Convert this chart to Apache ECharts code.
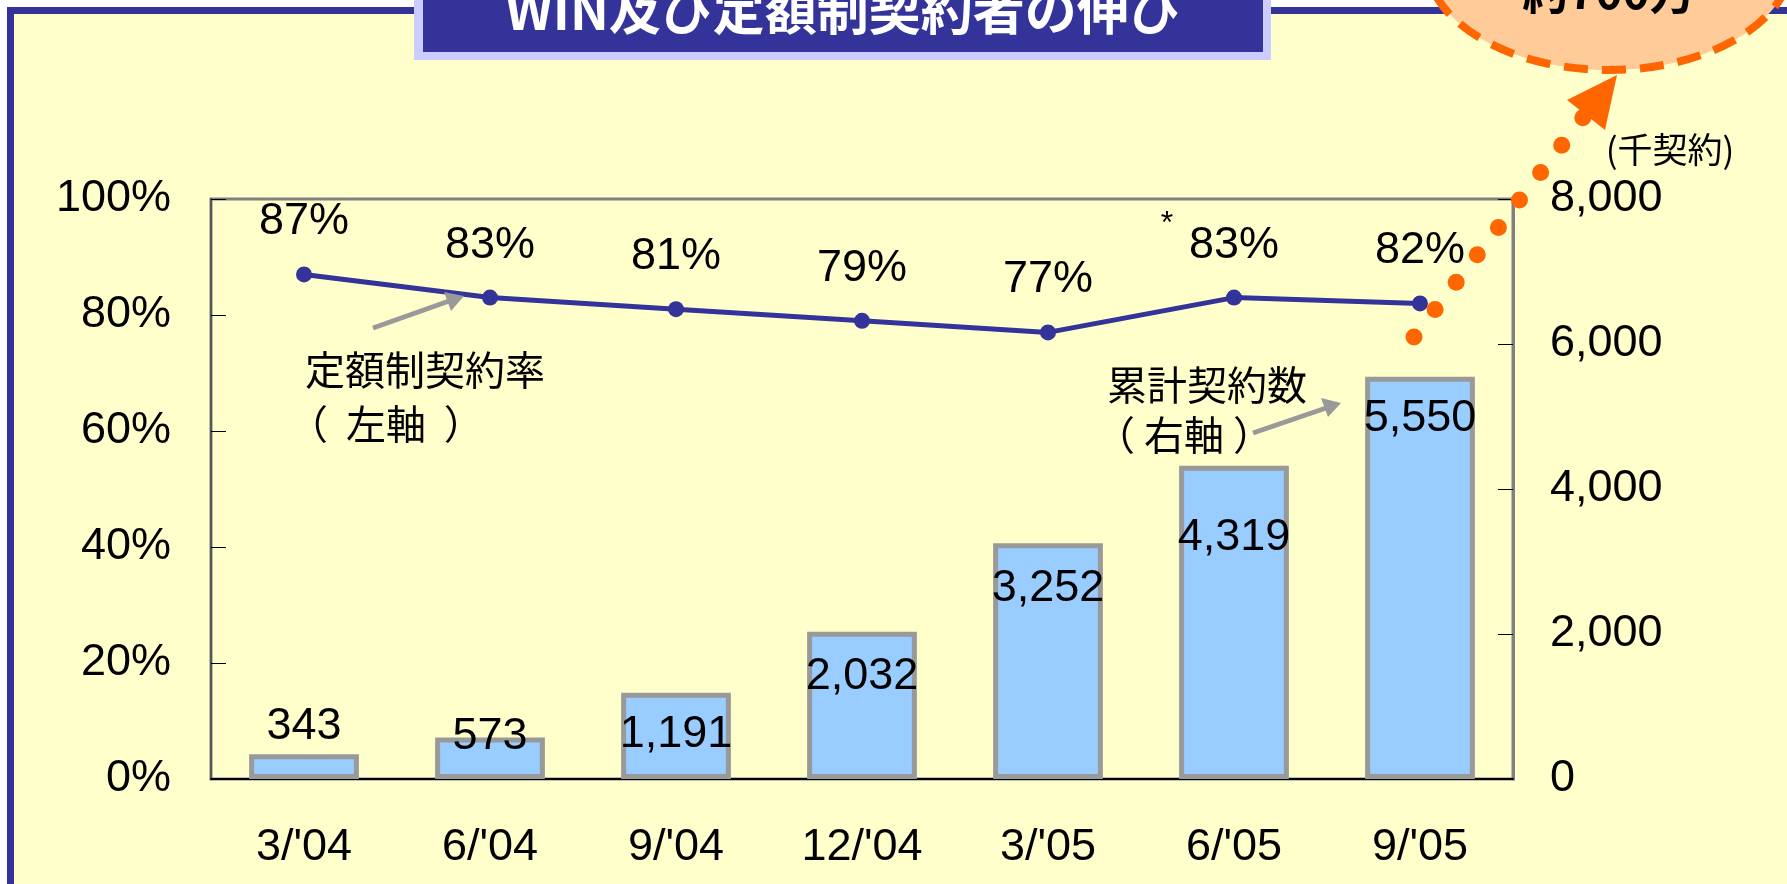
<!DOCTYPE html>
<html>
<head>
<meta charset="utf-8">
<script src="https://cdn.jsdelivr.net/npm/echarts@6/dist/echarts.min.js"></script>
<style>
  html, body { margin: 0; padding: 0; background: #ffffff; }
  #chart { width: 1787px; height: 884px; }
</style>
</head>
<body>
<div id="chart"></div>
<script>
// 期間
var categories = ["3/'04", "6/'04", "9/'04", "12/'04", "3/'05", "6/'05", "9/'05"];
// 累計契約数（千契約） 右軸
var contracts = [343, 573, 1191, 2032, 3252, 4319, 5550];
// 定額制契約率（%） 左軸
var flatRate = [87, 83, 81, 79, 77, 83, 82];
// 軸目盛
var leftTicks = [0, 20, 40, 60, 80, 100];
var rightTicks = [0, 2000, 4000, 6000, 8000];

var numFont = '"Liberation Sans", Arial, sans-serif';
var jpFont = '"Noto Sans CJK JP", "Noto Sans", sans-serif';

// 棒ラベルの縦方向のずらし（元の図に合わせる）
var barLabelShift = [-55, -28, 14, 17, 18, 44, 14];

var chart = echarts.init(document.getElementById('chart'));

// 予測の点線（装飾）
var dots = [];
for (var i = 0; i < 9; i++) {
    dots.push({
        type: 'circle',
        shape: { cx: 1414 + i * 21.1, cy: 337 - i * 27.4, r: 8.5 },
        style: { fill: '#ff6600' },
        z: 50
    });
}

function note(text, x, y, size) {
    return {
        type: 'text', z: 20,
        x: x, y: y,
        style: {
            text: text,
            font: size + 'px ' + jpFont,
            fill: '#000000',
            align: 'left',
            verticalAlign: 'middle'
        }
    };
}

var option = {
    backgroundColor: '#ffffff',
    animation: false,
    grid: {
        left: 211, right: 274, top: 199, bottom: 105,
        show: true,
        backgroundColor: 'transparent',
        borderColor: '#808080',
        borderWidth: 3
    },
    xAxis: {
        type: 'category',
        data: categories,
        axisLine: { lineStyle: { color: '#000000', width: 2 } },
        axisTick: { inside: true, length: 16, lineStyle: { color: '#000000', width: 1 } },
        axisLabel: { fontSize: 45, fontFamily: numFont, color: '#000000', margin: 46 }
    },
    yAxis: [
        {
            type: 'value',
            min: leftTicks[0], max: leftTicks[leftTicks.length - 1], interval: 20,
            position: 'left',
            splitLine: { show: false },
            axisLine: { show: true, lineStyle: { color: '#555555', width: 2 } },
            axisTick: { show: true, inside: true, length: 15, lineStyle: { color: '#000000', width: 1 } },
            axisLabel: { fontSize: 45, fontFamily: numFont, color: '#000000', margin: 40, formatter: '{value}%' }
        },
        {
            type: 'value',
            min: rightTicks[0], max: rightTicks[rightTicks.length - 1], interval: 2000,
            position: 'right',
            splitLine: { show: false },
            axisLine: { show: true, lineStyle: { color: '#808080', width: 3 } },
            axisTick: { show: true, inside: true, length: 15, lineStyle: { color: '#000000', width: 1 } },
            axisLabel: {
                fontSize: 45, fontFamily: numFont, color: '#000000', margin: 37,
                formatter: function (v) { return v.toLocaleString('en-US'); }
            }
        }
    ],
    series: [
        {
            name: '累計契約数',
            type: 'bar',
            yAxisIndex: 1,
            barWidth: '59%',
            data: contracts.map(function (v, i) {
                return {
                    value: v,
                    label: { offset: [0, barLabelShift[i]] }
                };
            }),
            itemStyle: { color: '#99ccff', borderColor: '#999999', borderWidth: 5 },
            label: {
                show: true,
                position: 'insideTop',
                fontSize: 45,
                fontFamily: numFont,
                color: '#000000',
                formatter: function (p) { return p.value.toLocaleString('en-US'); }
            },
            z: 2
        },
        {
            name: '定額制契約率',
            type: 'line',
            yAxisIndex: 0,
            data: flatRate,
            symbol: 'circle',
            symbolSize: 16,
            lineStyle: { color: '#333399', width: 5 },
            itemStyle: { color: '#333399' },
            label: {
                show: true,
                position: 'top',
                distance: 22,
                fontSize: 45,
                fontFamily: numFont,
                color: '#000000',
                formatter: '{c}%'
            },
            z: 5
        }
    ],
    graphic: [
        // 外枠
        {
            type: 'rect', z: -10,
            shape: { x: 10.5, y: 10.5, width: 1800, height: 900 },
            style: { fill: '#ffffcc', stroke: '#333399', lineWidth: 7 }
        },
        // タイトル
        {
            type: 'rect', z: 100,
            shape: { x: 414, y: -30, width: 857, height: 90 },
            style: { fill: '#ccccff' }
        },
        {
            type: 'rect', z: 101,
            shape: { x: 423, y: -30, width: 840, height: 82 },
            style: { fill: '#333399' }
        },
        {
            type: 'text', z: 102,
            x: 843, y: 10,
            style: {
                text: 'WIN及び定額制契約者の伸び',
                font: 'bold 52px ' + jpFont,
                fill: '#ffffff',
                align: 'center',
                verticalAlign: 'middle'
            }
        },
        // 吹き出し
        {
            type: 'ellipse', z: 60,
            shape: { cx: 1609, cy: -40, rx: 183, ry: 110 },
            style: { fill: '#ffcc99', stroke: '#ff6600', lineWidth: 8, lineDash: [24, 14] }
        },
        {
            type: 'text', z: 61,
            x: 1609, y: -8,
            style: {
                text: '約700万',
                font: 'bold 46px ' + jpFont,
                fill: '#000000',
                align: 'center',
                verticalAlign: 'middle'
            }
        },
        {
            type: 'polygon', z: 55,
            shape: { points: [[1617, 75], [1567, 100], [1605, 130]] },
            style: { fill: '#ff6600' }
        },
        // 単位
        {
            type: 'text', z: 20,
            x: 1670, y: 150,
            style: {
                text: '(千契約)',
                font: '35px ' + jpFont,
                fill: '#000000',
                align: 'center',
                verticalAlign: 'middle'
            }
        },
        // 注記
        note('定額制契約率', 305, 370, 40),
        note('（  左軸  ）', 288, 424, 40),
        {
            type: 'line', z: 20,
            shape: { x1: 373, y1: 328, x2: 452, y2: 300 },
            style: { stroke: '#999999', lineWidth: 5 }
        },
        {
            type: 'polygon', z: 20,
            shape: { points: [[464, 296], [444, 292], [451, 311]] },
            style: { fill: '#999999' }
        },
        note('累計契約数', 1107, 385, 40),
        note('（ 右軸 ）', 1095, 435, 40),
        {
            type: 'line', z: 20,
            shape: { x1: 1253, y1: 433, x2: 1329, y2: 407 },
            style: { stroke: '#999999', lineWidth: 5 }
        },
        {
            type: 'polygon', z: 20,
            shape: { points: [[1341, 403], [1321, 398], [1328, 417]] },
            style: { fill: '#999999' }
        },
        {
            type: 'text', z: 20,
            x: 1167, y: 208,
            style: {
                text: '*',
                font: '32px ' + numFont,
                fill: '#000000',
                align: 'center',
                verticalAlign: 'top'
            }
        }
    ].concat(dots)
};

chart.setOption(option);
</script>
</body>
</html>
